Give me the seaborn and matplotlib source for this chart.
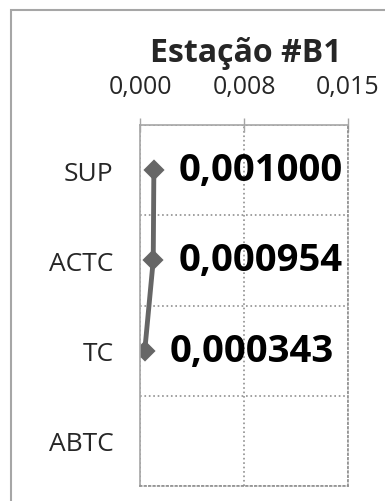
import matplotlib
matplotlib.use('Agg')
import matplotlib.pyplot as plt
import matplotlib.patches as patches
from matplotlib.ticker import FixedLocator, NullFormatter
import pandas as pd
import seaborn as sns

# Dados
categorias = ['SUP', 'ACTC', 'TC', 'ABTC']
camadas = ['SUP', 'ACTC', 'TC']
valores = [0.001000, 0.000954, 0.000343]
ticks_x = [0.0, 0.0075, 0.015]
rotulos_x = ['0,000', '0,008', '0,015']
titulo = 'Estação #B1'

df = pd.DataFrame({'camada': camadas, 'valor': valores})

sns.set_style('white')
plt.rcParams['font.family'] = ['Open Sans', 'DejaVu Sans']

fig = plt.figure(figsize=(3.85, 5.02), dpi=100)
ax = fig.add_axes([140 / 385, 1 - 487 / 502, 208 / 385, 361 / 502])

sns.pointplot(data=df, x='valor', y='camada', order=categorias,
              color='#666666', markers='D', linewidth=3.5, markersize=8,
              ax=ax)

# Rótulos dos valores
for cam, v in zip(camadas, valores):
    ax.annotate(f'{v:.6f}'.replace('.', ','), xy=(v, categorias.index(cam)),
                xytext=(18, 0), textcoords='offset points',
                ha='left', va='center', fontsize=27.5, fontweight='bold',
                color='black')

# Eixo x no topo
ax.set_xlim(0, 0.015)
ax.xaxis.tick_top()
ax.set_xticks(ticks_x)
ax.set_xticklabels(rotulos_x, fontsize=18)
ax.tick_params(axis='x', direction='inout', length=10, width=1,
               color='#a6a6a6', pad=14)

# Eixo y categórico
ax.set_ylim(3.5, -0.5)
ax.yaxis.set_major_locator(FixedLocator([-0.5, 0.5, 1.5, 2.5, 3.5]))
ax.yaxis.set_major_formatter(NullFormatter())
ax.yaxis.set_minor_locator(FixedLocator([0, 1, 2, 3]))
ax.set_yticklabels(categorias, minor=True, fontsize=19)
ax.tick_params(axis='y', which='major', direction='out', length=7,
               width=1, color='#a6a6a6')
ax.tick_params(axis='y', which='minor', length=0, pad=19)
ax.set_xlabel('')
ax.set_ylabel('')

ax.grid(True, which='major', linestyle=':', color='#909090', linewidth=1.2)
ax.set_axisbelow(True)

for lado in ['left', 'top']:
    ax.spines[lado].set_color('#a6a6a6')
    ax.spines[lado].set_linewidth(1.2)
for lado in ['right', 'bottom']:
    ax.spines[lado].set_color('#909090')
    ax.spines[lado].set_linestyle(':')
    ax.spines[lado].set_linewidth(1.2)

fig.text(246 / 385, 1 - 54 / 502, titulo, ha='center', va='center',
         fontsize=23, fontweight='bold')

# Moldura externa
fig.patches.append(patches.Rectangle((11 / 385, -0.1), 1.2, 1 - 11 / 502 + 0.1,
                                     transform=fig.transFigure, fill=False,
                                     edgecolor='#a6a6a6', linewidth=1.5))

fig.savefig('out.png', dpi=100)
